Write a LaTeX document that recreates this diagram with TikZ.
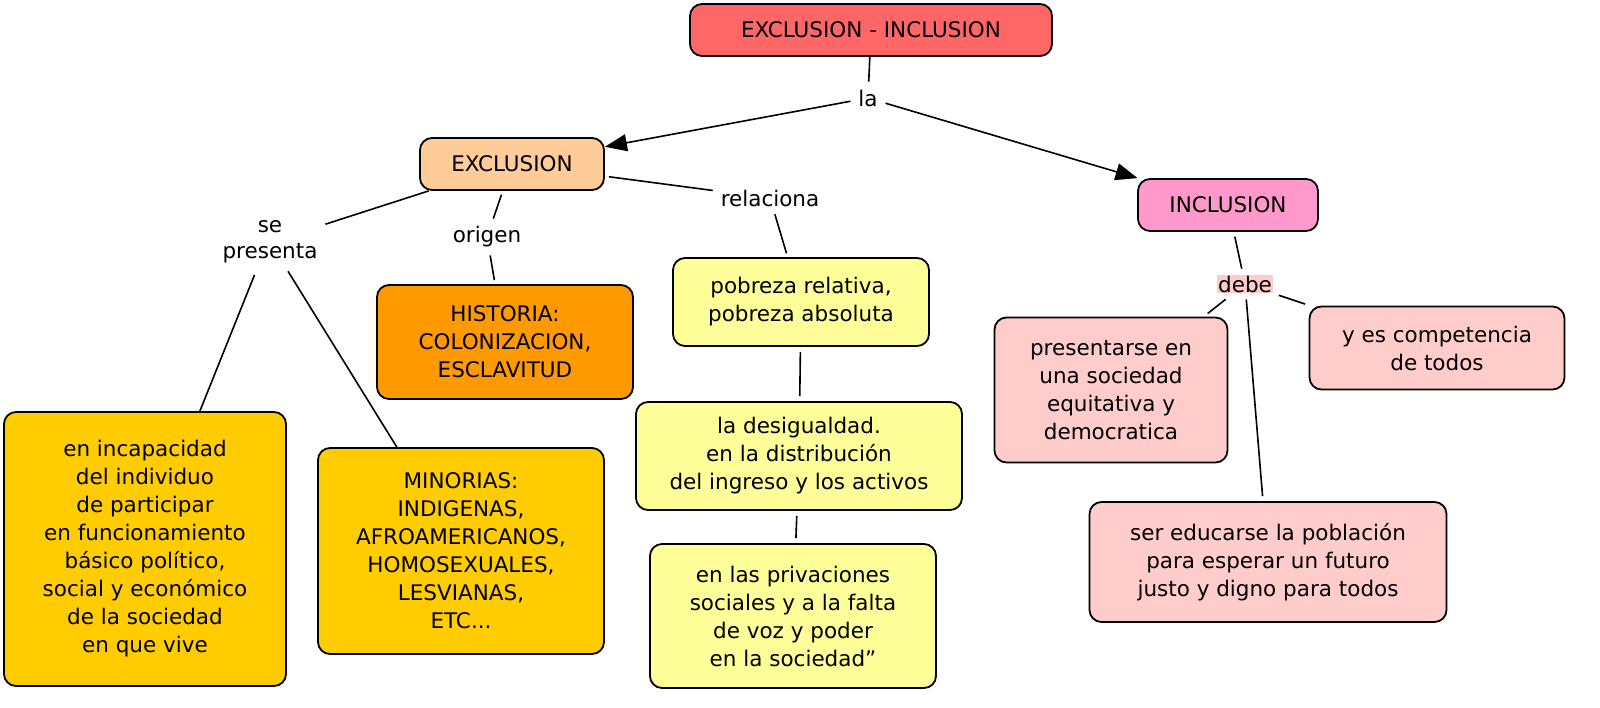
\documentclass[tikz,border=0pt]{standalone}
\usepackage{fontspec}
\setmainfont{DejaVu Sans}
\usetikzlibrary{arrows.meta}
\begin{document}
\begin{tikzpicture}[x=1pt,y=-1pt,
  box/.style={draw,line width=1.8pt,rounded corners=12pt,align=center,inner sep=0pt,font=\fontsize{21.5}{28}\selectfont},
  lbl/.style={align=center,font=\fontsize{21.5}{26}\selectfont,inner sep=2pt,outer sep=6pt},
  ln/.style={line width=1.6pt},
  arr/.style={line width=1.6pt,-{Triangle[length=22pt,width=17pt]}}]
\useasboundingbox[fill=white] (0,0) rectangle (1600,707);
\definecolor{cred}{HTML}{FF6666}
\definecolor{corg}{HTML}{FFCC99}
\definecolor{cpink}{HTML}{FF99CC}
\definecolor{cor}{HTML}{FF9900}
\definecolor{cyel}{HTML}{FFFF99}
\definecolor{cgold}{HTML}{FFCC00}
\definecolor{clp}{HTML}{FFCCCC}
\node[box,fill=cred,minimum width=362pt,minimum height=52pt] (top) at (871,30) {EXCLUSION - INCLUSION};
\node[box,fill=corg,minimum width=184pt,minimum height=52pt] (exc) at (512,164) {EXCLUSION};
\node[box,fill=cpink,minimum width=180pt,minimum height=52pt] (inc) at (1228,205) {INCLUSION};
\node[box,fill=cor,minimum width=256pt,minimum height=114pt] (his) at (505,342) {HISTORIA:\\COLONIZACION,\\ESCLAVITUD};
\node[box,fill=cyel,minimum width=256pt,minimum height=88pt] (pob) at (801,302) {pobreza relativa,\\ pobreza absoluta};
\node[box,fill=cyel,minimum width=326pt,minimum height=108pt] (des) at (799,456) {la desigualdad.\\en la distribución\\del ingreso y los activos};
\node[box,fill=cyel,minimum width=286pt,minimum height=144pt] (pri) at (793,616) {en las privaciones\\sociales y a la falta\\de voz y poder\\en la sociedad”};
\node[box,fill=cgold,minimum width=282pt,minimum height=274pt] (inca) at (145,549) {en incapacidad\\del individuo\\de participar\\en funcionamiento\\básico político,\\social y económico\\de la sociedad\\en que vive};
\node[box,fill=cgold,minimum width=286pt,minimum height=206pt] (min) at (461,551) {MINORIAS:\\INDIGENAS,\\AFROAMERICANOS,\\HOMOSEXUALES,\\LESVIANAS,\\ETC...};
\node[box,fill=clp,minimum width=233pt,minimum height=145pt] (pre) at (1111,390) {presentarse en\\una sociedad\\equitativa y\\democratica};
\node[box,fill=clp,minimum width=255pt,minimum height=83pt] (ycomp) at (1437,348) {y es competencia\\de todos};
\node[box,fill=clp,minimum width=357pt,minimum height=120pt] (ser) at (1268,562) {ser educarse la población\\para esperar un futuro\\justo y digno para todos};
\node[lbl] (la) at (868,98) {la};
\node[lbl] (sep) at (270,242) {se\\presenta};
\node[lbl] (ori) at (487,237) {origen};
\node[lbl] (rel) at (770,198) {relaciona};
\node[lbl,fill=clp,inner sep=1pt] (debe) at (1245,284) {debe};
\draw[ln] (top) -- (la);
\draw[arr] (la) -- (exc);
\draw[arr] (la) -- (inc);
\draw[ln] (exc) -- (sep);
\draw[ln,shorten <=4pt] (sep.south) ++(-14,0) coordinate (s1) (s1) -- (inca);
\draw[ln] (sep.south) ++(18,0) coordinate (s2) (s2) -- (min);
\draw[ln,shorten <=4pt] (exc) -- (ori);
\draw[ln,shorten >=4pt] (ori) -- (his);
\draw[ln,shorten <=4pt] (exc) -- (rel);
\draw[ln,shorten >=4pt] (rel) -- (pob);
\draw[ln,shorten <=5pt,shorten >=5pt] (pob) -- (des);
\draw[ln,shorten <=5pt,shorten >=5pt] (des) -- (pri);
\draw[ln,shorten <=5pt] (inc) -- (debe);
\draw[ln,shorten >=5pt] (debe) -- (pre);
\draw[ln,shorten >=5pt] (debe) -- (ycomp);
\draw[ln,shorten >=5pt] (debe) -- (ser);
\end{tikzpicture}
\end{document}
